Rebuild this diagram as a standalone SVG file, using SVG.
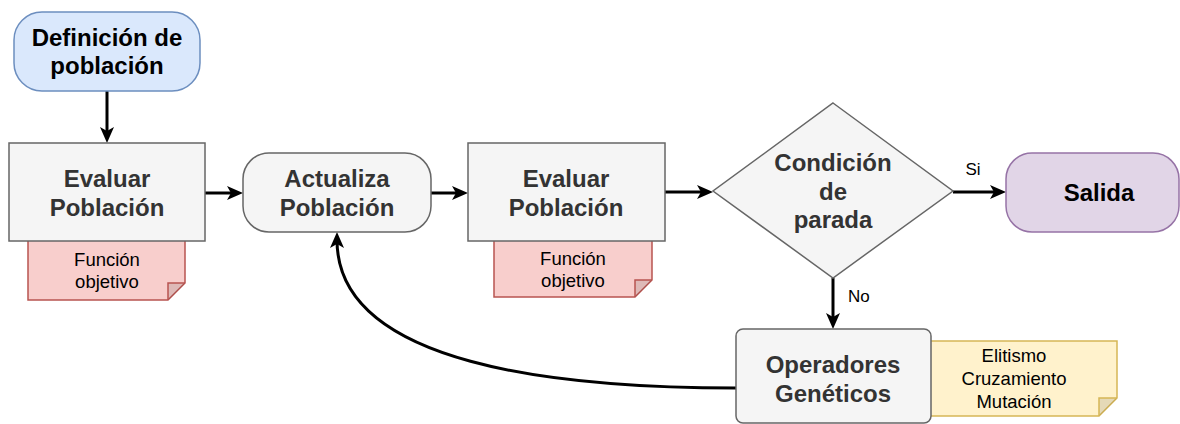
<svg xmlns="http://www.w3.org/2000/svg" width="1180" height="424" viewBox="0 0 1180 424">
<style>
.node{fill:#f5f5f5;stroke:#666666;stroke-width:1.5}
.t{font-family:"Liberation Sans",Helvetica,Arial,sans-serif;text-anchor:middle}
.b{font-weight:bold;font-size:24px;fill:#333333}
.k{fill:#000000}
.n{font-size:18.5px;fill:#000000}
.lbl{font-family:"Liberation Sans",Helvetica,Arial,sans-serif;font-size:17px;fill:#000000}
.edge{fill:none;stroke:#000000;stroke-width:3}
.pink{fill:#f8cecc;stroke:#b85450;stroke-width:1.5}
.yel{fill:#fff2cc;stroke:#d6b656;stroke-width:1.5}
</style>
<defs>
<marker id="arr" markerUnits="userSpaceOnUse" markerWidth="18" markerHeight="16" refX="8" refY="7" orient="auto" overflow="visible">
<path d="M0,0 L16,7 L0,14 L4,7 Z" fill="#000"/>
</marker>
</defs>
<rect width="1180" height="424" fill="#ffffff"/>

<g id="note1">
<path class="pink" d="M28,235 H185 V283 L168,300 H28 Z"/>
<path d="M168,300 V283 H185" style="fill:#000;fill-opacity:0.1;stroke:#b85450;stroke-width:1.5"/>
<text class="t n" x="107" y="266">Función</text>
<text class="t n" x="107" y="288">objetivo</text>
</g>
<g id="note2">
<path class="pink" d="M494,235 H652 V280 L635,297 H494 Z"/>
<path d="M635,297 V280 H652" style="fill:#000;fill-opacity:0.1;stroke:#b85450;stroke-width:1.5"/>
<text class="t n" x="573" y="265">Función</text>
<text class="t n" x="573" y="287">objetivo</text>
</g>
<g id="note3">
<path class="yel" d="M911,341 H1117 V398 L1099,416 H911 Z"/>
<path d="M1099,416 V398 H1117" style="fill:#000;fill-opacity:0.1;stroke:#d6b656;stroke-width:1.5"/>
<text class="t n" x="1014" y="362">Elitismo</text>
<text class="t n" x="1014" y="385">Cruzamiento</text>
<text class="t n" x="1014" y="408">Mutación</text>
</g>

<g id="connectors">
<path class="edge" d="M107,91 V135" marker-end="url(#arr)"/>
<path class="edge" d="M205,193 H235" marker-end="url(#arr)"/>
<path class="edge" d="M431,193 H460" marker-end="url(#arr)"/>
<path class="edge" d="M665,192 H705" marker-end="url(#arr)"/>
<path class="edge" d="M953,192 H998" marker-end="url(#arr)"/>
<path class="edge" d="M833,278 V321" marker-end="url(#arr)"/>
<path class="edge" d="M736,388 C560,388 337,366 337,240" marker-end="url(#arr)"/>
<text class="lbl" x="973" y="175" text-anchor="middle">Si</text>
<text class="lbl" x="848" y="302">No</text>
</g>

<g id="definicion">
<rect x="14" y="12" width="186" height="79" rx="28" fill="#dae8fc" stroke="#6c8ebf" stroke-width="1.5"/>
<text class="t b k" x="107" y="46">Definición de</text>
<text class="t b k" x="107" y="74">población</text>
</g>
<g id="evaluar1">
<rect class="node" x="9" y="143" width="196" height="98"/>
<text class="t b" x="107" y="187">Evaluar</text>
<text class="t b" x="107" y="216">Población</text>
</g>
<g id="actualiza">
<rect class="node" x="243" y="153" width="188" height="79" rx="26"/>
<text class="t b" x="337" y="187">Actualiza</text>
<text class="t b" x="337" y="216">Población</text>
</g>
<g id="evaluar2">
<rect class="node" x="468" y="143" width="197" height="98"/>
<text class="t b" x="566" y="187">Evaluar</text>
<text class="t b" x="566" y="216">Población</text>
</g>
<g id="condicion">
<polygon class="node" points="833,103 953,191 833,278 713,191"/>
<text class="t b" x="833" y="171">Condición</text>
<text class="t b" x="833" y="200">de</text>
<text class="t b" x="833" y="228">parada</text>
</g>
<g id="salida">
<rect x="1006" y="153" width="173" height="79" rx="26" fill="#e1d5e7" stroke="#9673a6" stroke-width="1.5"/>
<text class="t b k" x="1099" y="201">Salida</text>
</g>
<g id="operadores">
<rect class="node" x="736" y="329" width="195" height="94" rx="7"/>
<text class="t b" x="833" y="373">Operadores</text>
<text class="t b" x="833" y="402">Genéticos</text>
</g>
</svg>
